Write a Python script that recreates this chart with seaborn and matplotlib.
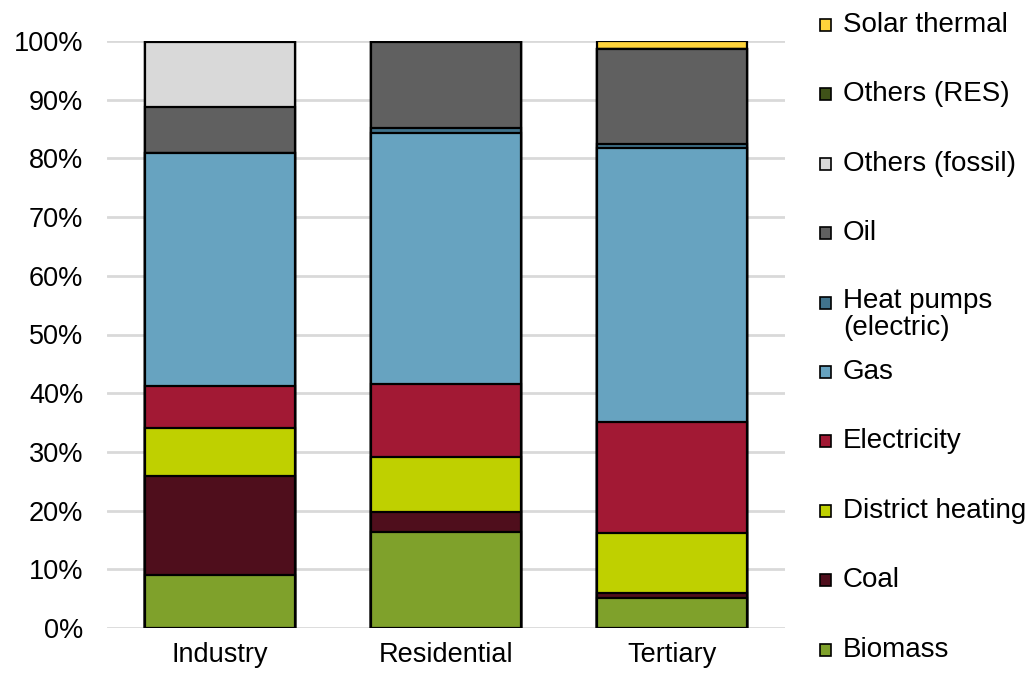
import matplotlib
matplotlib.use("Agg")
import matplotlib.pyplot as plt
import matplotlib.patches as mpatches
import numpy as np
import pandas as pd
import seaborn as sns

sectors = ["Industry", "Residential", "Tertiary"]
biomass = [9.0, 16.3, 5.1]
coal = [16.9, 3.5, 0.8]
district_heating = [8.1, 9.3, 10.3]
electricity = [7.2, 12.5, 18.9]
gas = [39.7, 42.8, 46.6]
heat_pumps = [0.0, 0.8, 0.8]
oil = [7.9, 14.6, 16.1]
others_fossil = [11.0, 0.0, 0.0]
others_res = [0.2, 0.2, 0.0]
solar_thermal = [0.0, 0.0, 1.4]

series_names = ["Biomass", "Coal", "District heating", "Electricity", "Gas",
                "Heat pumps\n(electric)", "Oil", "Others (fossil)", "Others (RES)",
                "Solar thermal"]
series_values = [biomass, coal, district_heating, electricity, gas, heat_pumps,
                 oil, others_fossil, others_res, solar_thermal]
colors = ["#7FA12B", "#4F0E1C", "#BFD000", "#A21934", "#67A3C0", "#41738C",
          "#606060", "#D9D9D9", "#3F5218", "#FFD43B"]

sns.set_theme(style="white")
plt.rcParams["font.family"] = ["Liberation Sans", "DejaVu Sans"]
plt.rcParams["text.color"] = "black"
plt.rcParams["xtick.color"] = "black"
plt.rcParams["ytick.color"] = "black"

fig = plt.figure(figsize=(10.32, 6.76), dpi=100)
ax = fig.add_axes([107 / 1032, 48 / 676, (785 - 107) / 1032, (628 - 41) / 676])

cum = np.cumsum(np.array(series_values), axis=0)
for i in range(len(series_names) - 1, -1, -1):
    df = pd.DataFrame({"sector": sectors, "value": cum[i]})
    sns.barplot(data=df, x="sector", y="value", color=colors[i], width=0.66,
                edgecolor="black", linewidth=1.6, saturation=1, ax=ax, zorder=3)

ax.set_xlim(-0.5, 2.5)
ax.set_ylim(0, 100)
ax.set_yticks(np.arange(0, 101, 10))
ax.set_yticklabels([f"{v}%" for v in range(0, 101, 10)])
ax.set_xlabel("")
ax.set_ylabel("")
ax.tick_params(axis="both", length=0, labelsize=19.5, labelcolor="black")
ax.tick_params(axis="y", pad=17)
ax.tick_params(axis="x", pad=10)
ax.yaxis.grid(True, color="#D9D9D9", linewidth=2)
ax.set_axisbelow(True)
for s in ax.spines.values():
    s.set_visible(False)

# legend (top to bottom)
order = list(range(len(series_names) - 1, -1, -1))
for k, i in enumerate(order):
    yc = 25 + 69.4 * k
    yf = 1 - yc / 676
    rect = mpatches.Rectangle((820 / 1032, 1 - (yc + 6) / 676), 11 / 1032, 12 / 676,
                              transform=fig.transFigure, facecolor=colors[i],
                              edgecolor="black", linewidth=1.2)
    fig.patches.append(rect)
    if "\n" in series_names[i]:
        fig.text(843 / 1032, 1 - (yc - 15) / 676, series_names[i], fontsize=20,
                 va="top", ha="left", linespacing=1.05, color="black")
    else:
        fig.text(843 / 1032, yf, series_names[i], fontsize=20, va="center",
                 ha="left", color="black")

fig.savefig("out.png", dpi=100)
